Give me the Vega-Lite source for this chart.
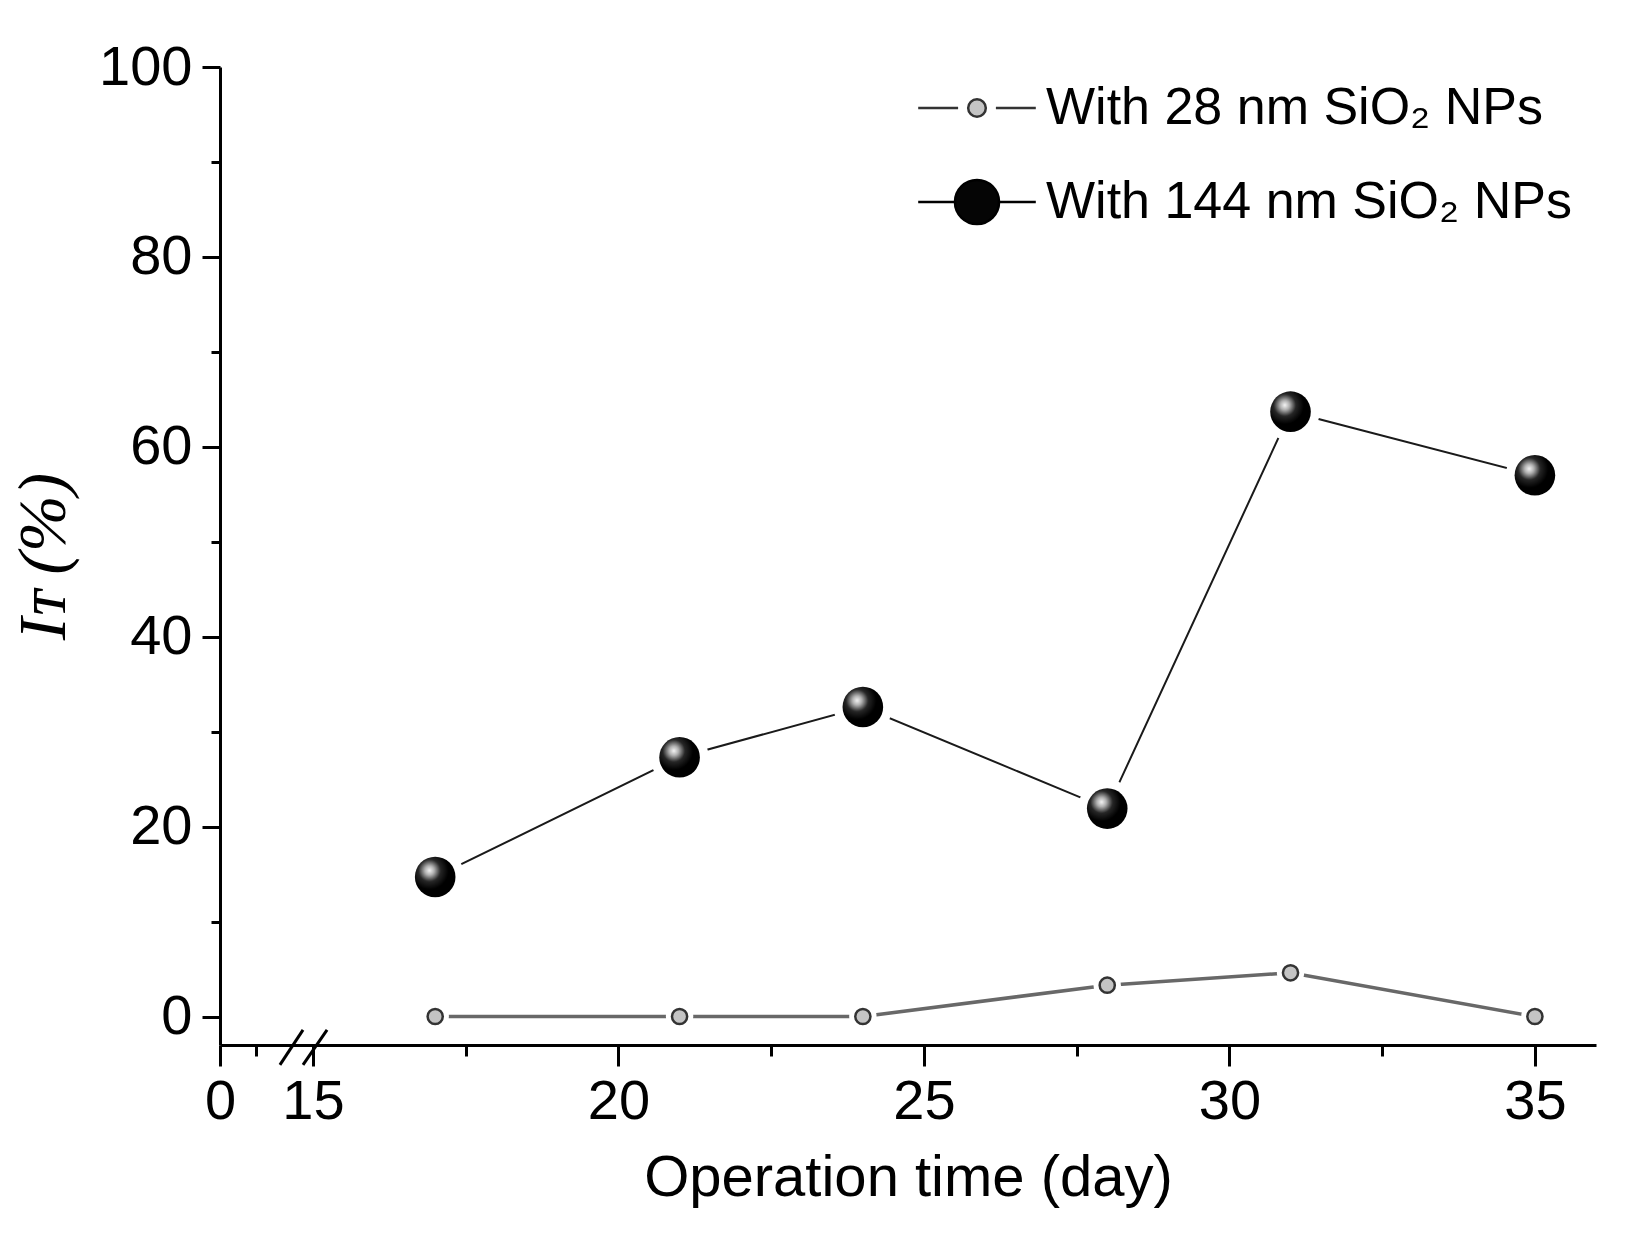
{
  "$schema": "https://vega.github.io/schema/vega-lite/v6.json",
  "width": 1376,
  "height": 978,
  "autosize": "none",
  "padding": {"left": 220, "top": 67, "right": 36, "bottom": 195},
  "background": "white",
  "data": {
    "values": [
      {"day": 17, "it": 0, "series": "With 28 nm SiO₂ NPs"},
      {"day": 21, "it": 0, "series": "With 28 nm SiO₂ NPs"},
      {"day": 24, "it": 0, "series": "With 28 nm SiO₂ NPs"},
      {"day": 28, "it": 3.3, "series": "With 28 nm SiO₂ NPs"},
      {"day": 31, "it": 4.6, "series": "With 28 nm SiO₂ NPs"},
      {"day": 35, "it": 0, "series": "With 28 nm SiO₂ NPs"},
      {"day": 17, "it": 14.7, "series": "With 144 nm SiO₂ NPs"},
      {"day": 21, "it": 27.3, "series": "With 144 nm SiO₂ NPs"},
      {"day": 24, "it": 32.6, "series": "With 144 nm SiO₂ NPs"},
      {"day": 28, "it": 21.9, "series": "With 144 nm SiO₂ NPs"},
      {"day": 31, "it": 63.7, "series": "With 144 nm SiO₂ NPs"},
      {"day": 35, "it": 57.0, "series": "With 144 nm SiO₂ NPs"}
    ]
  },
  "encoding": {
    "x": {
      "field": "day",
      "type": "quantitative",
      "scale": {"domain": [0, 5, 15, 36], "range": [0, 36, 93, 1376], "zero": false, "nice": false},
      "axis": {
        "title": "Operation time (day)",
        "values": [0, 5, 15, 17.5, 20, 22.5, 25, 27.5, 30, 32.5, 35],
        "labelExpr": "indexof([0, 15, 20, 25, 30, 35], datum.value) >= 0 ? datum.label : ''",
        "tickSize": {"condition": {"test": "indexof([0, 15, 20, 25, 30, 35], datum.value) >= 0", "value": 21}, "value": 11},
        "grid": false,
        "domainColor": "#000",
        "domainWidth": 3,
        "tickColor": "#000",
        "tickWidth": 3,
        "labelFont": "Liberation Sans",
        "labelFontSize": 56,
        "labelColor": "#000",
        "labelPadding": 8,
        "labelFlush": false,
        "labelOverlap": false,
        "titleFont": "Liberation Sans",
        "titleFontSize": 58,
        "titleFontWeight": "normal",
        "titleColor": "#000",
        "titlePadding": 20
      }
    },
    "y": {
      "field": "it",
      "type": "quantitative",
      "scale": {"domain": [-3, 100], "zero": false, "nice": false},
      "axis": {
        "title": "Iᴛ (%)",
        "values": [0, 10, 20, 30, 40, 50, 60, 70, 80, 90, 100],
        "labelExpr": "datum.value % 20 === 0 ? datum.label : ''",
        "tickSize": {"condition": {"test": "datum.value % 20 === 0", "value": 18}, "value": 9},
        "grid": false,
        "domainColor": "#000",
        "domainWidth": 3,
        "tickColor": "#000",
        "tickWidth": 3,
        "labelFont": "Liberation Sans",
        "labelFontSize": 56,
        "labelColor": "#000",
        "labelPadding": 10,
        "labelFlush": false,
        "labelOverlap": false,
        "titleFont": "Liberation Serif",
        "titleFontSize": 68,
        "titleFontWeight": "normal",
        "titleFontStyle": "italic",
        "titleColor": "#000",
        "titlePadding": 20
      }
    }
  },
  "layer": [
    {
      "transform": [{"filter": "datum.series === 'With 28 nm SiO₂ NPs'"}],
      "mark": {"type": "line", "color": "#686868", "strokeWidth": 3.5}
    },
    {
      "transform": [{"filter": "datum.series === 'With 144 nm SiO₂ NPs'"}],
      "mark": {"type": "line", "color": "#1a1a1a", "strokeWidth": 2}
    },
    {
      "transform": [{"filter": "datum.series === 'With 28 nm SiO₂ NPs'"}],
      "mark": {"type": "point", "filled": true, "fill": "white", "opacity": 1, "size": 750}
    },
    {
      "transform": [{"filter": "datum.series === 'With 144 nm SiO₂ NPs'"}],
      "mark": {"type": "point", "filled": true, "fill": "white", "opacity": 1, "size": 3400}
    },
    {
      "transform": [{"filter": "datum.series === 'With 28 nm SiO₂ NPs'"}],
      "mark": {"type": "point", "filled": false, "fill": "#c4c4c4", "stroke": "#333333", "strokeWidth": 2.5, "opacity": 1, "size": 230}
    },
    {
      "transform": [{"filter": "datum.series === 'With 144 nm SiO₂ NPs'"}],
      "mark": {
        "type": "point",
        "filled": true,
        "opacity": 1,
        "size": 1650,
        "fill": {
          "gradient": "radial",
          "x1": 0.36, "y1": 0.34, "r1": 0,
          "x2": 0.36, "y2": 0.34, "r2": 0.72,
          "stops": [
            {"offset": 0, "color": "#f4f4f4"},
            {"offset": 0.16, "color": "#b0b0b0"},
            {"offset": 0.38, "color": "#262626"},
            {"offset": 0.65, "color": "#000000"},
            {"offset": 1, "color": "#000000"}
          ]
        }
      }
    },
    {
      "mark": {"type": "point", "opacity": 0, "size": 10, "strokeWidth": 2.5},
      "encoding": {
        "fill": {
          "field": "series",
          "type": "nominal",
          "scale": {
            "domain": ["With 28 nm SiO₂ NPs", "With 144 nm SiO₂ NPs"],
            "range": ["#c4c4c4", "#050505"]
          },
          "legend": {
            "title": null,
            "orient": "none",
            "legendX": 731,
            "legendY": 15,
            "padding": 0,
            "symbolSize": 1764,
            "symbolOpacity": 1,
            "symbolStrokeWidth": 2.5,
            "rowPadding": 40,
            "labelOffset": 43,
            "labelFont": "Liberation Sans",
            "labelFontSize": 52,
            "labelColor": "#000",
            "labelLimit": 0
          }
        },
        "stroke": {
          "field": "series",
          "type": "nominal",
          "scale": {
            "domain": ["With 28 nm SiO₂ NPs", "With 144 nm SiO₂ NPs"],
            "range": ["#333333", "#000000"]
          },
          "legend": {
            "title": null,
            "orient": "none",
            "legendX": 731,
            "legendY": 15,
            "padding": 0,
            "symbolSize": 1764,
            "symbolOpacity": 1,
            "symbolStrokeWidth": 2.5,
            "rowPadding": 40,
            "labelOffset": 43,
            "labelFont": "Liberation Sans",
            "labelFontSize": 52,
            "labelColor": "#000",
            "labelLimit": 0
          }
        },
        "shape": {
          "field": "series",
          "type": "nominal",
          "scale": {
            "domain": ["With 28 nm SiO₂ NPs", "With 144 nm SiO₂ NPs"],
            "range": [
              "M-2.8,0H-0.9M0.9,0H2.8M-0.42,0A0.42,0.42 0 1,0 0.42,0A0.42,0.42 0 1,0 -0.42,0Z",
              "M-2.8,0H-1M1,0H2.8M-1.05,0A1.05,1.05 0 1,0 1.05,0A1.05,1.05 0 1,0 -1.05,0Z"
            ]
          },
          "legend": {
            "title": null,
            "orient": "none",
            "legendX": 731,
            "legendY": 15,
            "padding": 0,
            "symbolSize": 1764,
            "symbolOpacity": 1,
            "symbolStrokeWidth": 2.5,
            "rowPadding": 40,
            "labelOffset": 43,
            "labelFont": "Liberation Sans",
            "labelFontSize": 52,
            "labelColor": "#000",
            "labelLimit": 0
          }
        }
      }
    },
    {
      "data": {
        "values": [
          {"bx": 9.2, "by": -5.1, "bx2": 13.25, "by2": -1.4},
          {"bx": 13.25, "by": -5.1, "bx2": 15.23, "by2": -1.4}
        ]
      },
      "mark": {"type": "rule", "color": "#000", "strokeWidth": 3},
      "encoding": {
        "x": {"field": "bx", "type": "quantitative"},
        "y": {"field": "by", "type": "quantitative"},
        "x2": {"field": "bx2"},
        "y2": {"field": "by2"}
      }
    }
  ],
  "config": {
    "view": {"stroke": null}
  }
}
